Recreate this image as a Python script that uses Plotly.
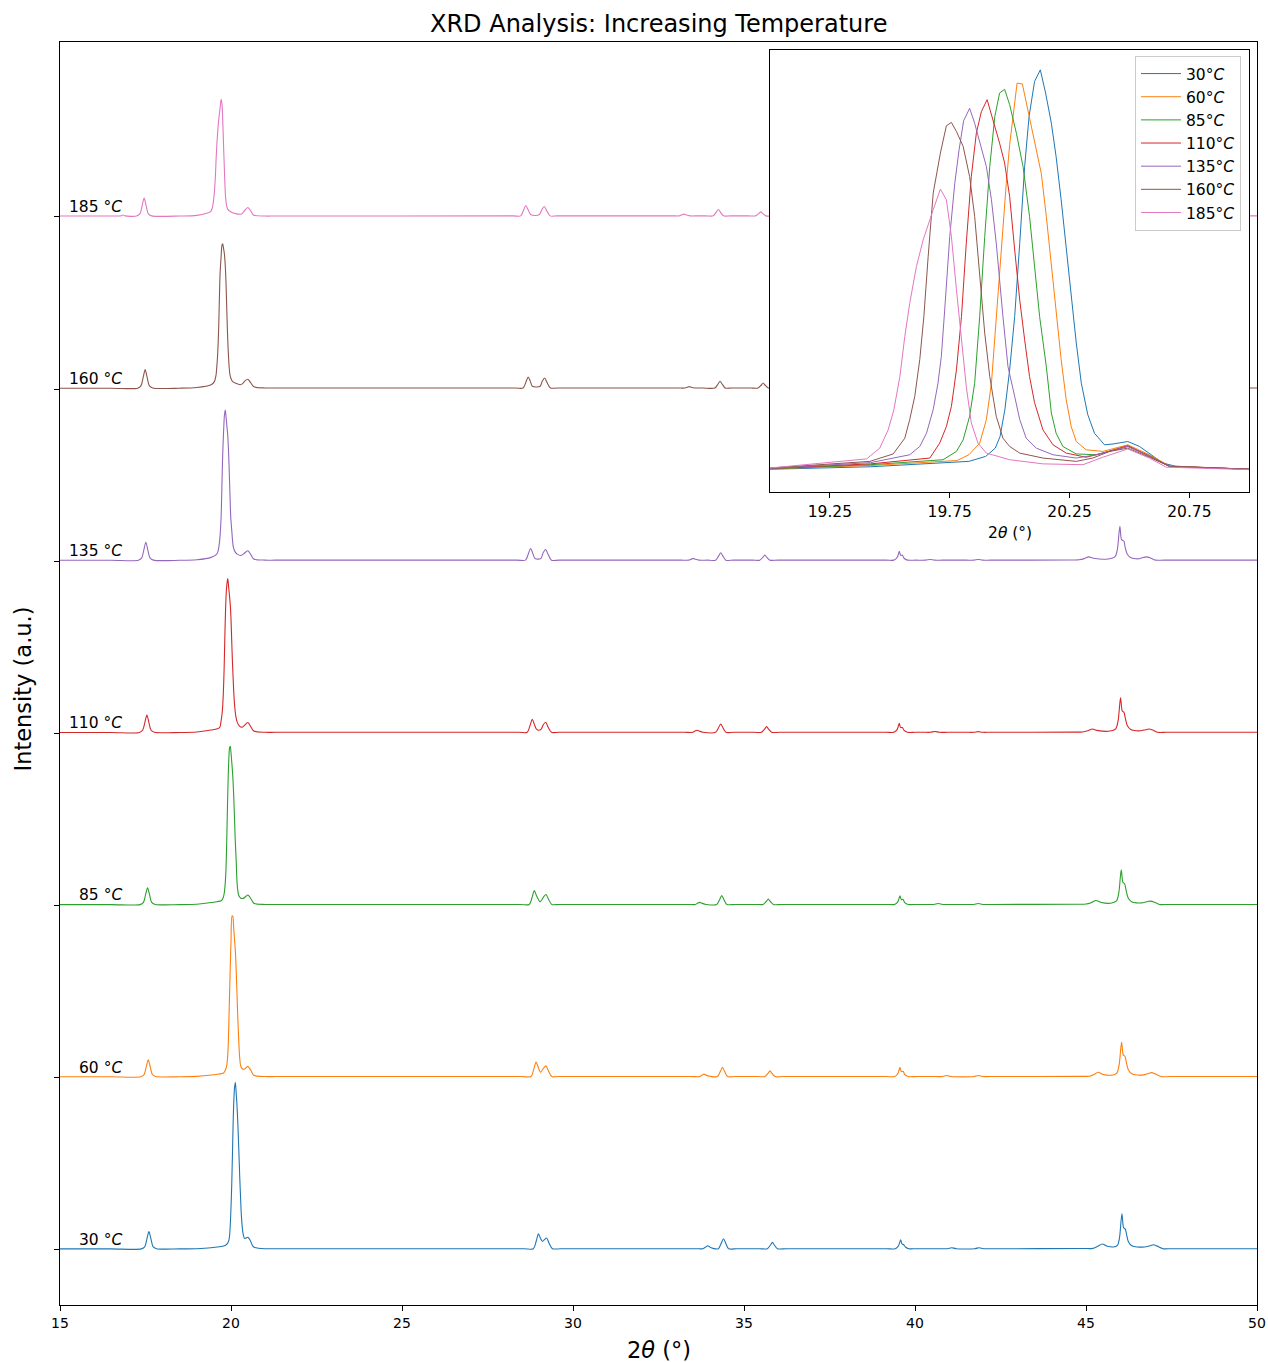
import plotly.graph_objects as go

# ---------------------------------------------------------------
# XRD patterns recorded at increasing temperature.
# Each pattern is a list of (2theta [deg], intensity [norm.]) points.
# ---------------------------------------------------------------
TEMPS = ["30", "60", "85", "110", "135", "160", "185"]
COLORS = ["#1f77b4", "#ff7f0e", "#2ca02c", "#d62728", "#9467bd", "#8c564b", "#e377c2"]
OFFSET_STEP = 1.0
X_TICKS = [15, 20, 25, 30, 35, 40, 45, 50]
INSET_TICKS = [19.25, 19.75, 20.25, 20.75]

PATTERN_30 = [
    (15.00, .005), (16.50, .005), (17.38, .005), (17.48, .018), (17.54, .062), (17.60, .105), (17.66, .062),
    (17.72, .018), (17.82, .006),
    (18.50, .005), (19.00, .006), (19.42, .012), (19.83, .025), (19.90, .037), (19.94, .057), (19.96, .085),
    (19.98, .150), (20.00, .246), (20.021, .375), (20.042, .552), (20.0625, .737), (20.081, .858), (20.104, .943),
    (20.128, .971), (20.15, .915), (20.174, .842), (20.194, .761), (20.215, .657), (20.236, .536), (20.257, .415),
    (20.278, .311), (20.299, .214), (20.326, .138), (20.354, .093), (20.396, .065), (20.431, .067), (20.493, .073),
    (20.542, .061), (20.583, .045), (20.639, .021), (20.694, .013), (21.00, .006), (21.30, .006),
    (28.55, .006), (28.84, .006), (28.93, .054), (28.99, .093), (29.05, .066), (29.11, .048), (29.17, .060),
    (29.23, .068), (29.30, .038), (29.40, .006), (29.65, .006),
    (33.55, .006), (33.80, .006), (33.88, .016), (33.94, .023), (34.00, .016), (34.10, .008), (34.25, .006),
    (34.34, .041), (34.40, .064), (34.46, .041), (34.55, .006), (34.80, .006),
    (35.45, .006), (35.68, .006), (35.77, .026), (35.83, .043), (35.89, .026), (35.98, .006), (36.25, .006),
    (39.15, .006), (39.42, .006), (39.50, .018), (39.54, .034), (39.58, .058), (39.62, .034), (39.67, .029),
    (39.72, .016), (39.82, .006), (40.05, .006),
    (40.75, .006), (40.95, .006), (41.07, .012), (41.20, .006), (41.75, .006), (41.88, .012), (42.00, .006),
    (42.25, .006),
    (44.95, .007), (45.20, .008), (45.34, .020), (45.48, .033), (45.60, .022), (45.80, .016), (45.92, .026),
    (45.98, .070), (46.05, .209), (46.10, .128), (46.15, .120), (46.19, .085), (46.24, .046), (46.34, .023),
    (46.50, .016), (46.70, .016), (46.85, .022), (46.97, .029), (47.08, .021), (47.25, .006), (47.50, .006),
    (50.00, .006),
]

PATTERN_60 = [
    (15.00, .005), (16.50, .005), (17.36, .005), (17.46, .018), (17.52, .061), (17.58, .103), (17.64, .061),
    (17.70, .018), (17.80, .006),
    (18.50, .005), (19.00, .007), (19.42, .015), (19.78, .027), (19.83, .041), (19.875, .069), (19.903, .126),
    (19.924, .214), (19.944, .375), (19.965, .536), (19.986, .697), (20.00, .790), (20.031, .939), (20.053, .937),
    (20.076, .874), (20.104, .802), (20.132, .721), (20.153, .617), (20.174, .496), (20.194, .375), (20.215, .271),
    (20.236, .174), (20.257, .109), (20.278, .073), (20.319, .053), (20.389, .049), (20.493, .065), (20.583, .041),
    (20.667, .014), (21.00, .006), (21.30, .006),
    (28.50, .006), (28.77, .006), (28.86, .054), (28.92, .091), (28.98, .062), (29.05, .031), (29.14, .055),
    (29.21, .068), (29.28, .040), (29.38, .006), (29.60, .006),
    (33.45, .006), (33.70, .006), (33.77, .014), (33.83, .020), (33.90, .013), (34.00, .008), (34.22, .006),
    (34.31, .037), (34.37, .060), (34.43, .037), (34.52, .006), (34.75, .006),
    (35.40, .006), (35.61, .006), (35.70, .024), (35.76, .039), (35.82, .024), (35.91, .006), (36.15, .006),
    (39.15, .006), (39.40, .006), (39.48, .018), (39.52, .034), (39.56, .060), (39.60, .035), (39.65, .037),
    (39.70, .018), (39.80, .006), (40.05, .006),
    (40.60, .006), (40.80, .006), (40.93, .012), (41.06, .006), (41.72, .006), (41.85, .012), (41.98, .006),
    (42.20, .006),
    (44.85, .007), (45.10, .008), (45.22, .016), (45.36, .031), (45.48, .020), (45.75, .014), (45.90, .026),
    (45.97, .075), (46.04, .205), (46.09, .132), (46.14, .124), (46.18, .088), (46.24, .044), (46.34, .022),
    (46.50, .015), (46.68, .016), (46.82, .024), (46.92, .029), (47.02, .022), (47.20, .006), (47.45, .006),
    (50.00, .006),
]

PATTERN_85 = [
    (15.00, .005), (16.50, .005), (17.34, .005), (17.44, .018), (17.50, .061), (17.56, .103), (17.62, .061),
    (17.68, .018), (17.78, .006),
    (18.50, .005), (19.00, .007), (19.42, .017), (19.722, .029), (19.778, .049), (19.806, .077), (19.833, .134),
    (19.854, .214), (19.875, .375), (19.896, .568), (19.917, .737), (19.938, .858), (19.958, .915), (19.979, .924),
    (20.00, .887), (20.028, .818), (20.056, .737), (20.083, .617), (20.104, .496), (20.125, .375), (20.153, .254),
    (20.174, .142), (20.194, .093), (20.222, .061), (20.278, .043), (20.361, .041), (20.493, .061), (20.583, .039),
    (20.667, .013), (21.00, .006), (21.30, .006),
    (28.45, .006), (28.72, .006), (28.81, .051), (28.87, .087), (28.93, .058), (29.04, .021), (29.14, .050),
    (29.21, .064), (29.28, .038), (29.38, .006), (29.60, .006),
    (33.35, .006), (33.58, .006), (33.65, .014), (33.71, .018), (33.78, .012), (33.90, .006), (34.20, .006),
    (34.29, .035), (34.35, .058), (34.41, .035), (34.50, .006), (34.75, .006),
    (35.35, .006), (35.56, .006), (35.65, .023), (35.71, .037), (35.77, .023), (35.86, .006), (36.10, .006),
    (39.15, .006), (39.40, .006), (39.48, .017), (39.52, .032), (39.56, .056), (39.60, .033), (39.65, .035),
    (39.70, .017), (39.80, .006), (40.05, .006),
    (40.35, .006), (40.55, .006), (40.68, .011), (40.81, .006), (41.05, .006), (41.50, .006), (41.72, .006),
    (41.85, .011), (41.98, .006), (42.20, .006),
    (44.75, .007), (45.00, .008), (45.15, .016), (45.29, .029), (45.42, .019), (45.72, .013), (45.89, .026),
    (45.96, .075), (46.03, .207), (46.08, .134), (46.13, .126), (46.17, .090), (46.23, .045), (46.33, .022),
    (46.48, .015), (46.63, .015), (46.78, .022), (46.89, .025), (47.00, .019), (47.15, .006), (47.40, .006),
    (50.00, .006),
]

PATTERN_110 = [
    (15.00, .005), (16.50, .005), (17.32, .005), (17.42, .019), (17.48, .062), (17.54, .106), (17.60, .062),
    (17.66, .019), (17.76, .006),
    (18.50, .005), (19.00, .008), (19.42, .019), (19.667, .033), (19.708, .069), (19.736, .109), (19.757, .158),
    (19.778, .246), (19.799, .375), (19.819, .552), (19.840, .713), (19.861, .818), (19.882, .870), (19.906, .899),
    (19.931, .850), (19.958, .794), (19.979, .746), (20.00, .665), (20.021, .536), (20.042, .415), (20.0625, .319),
    (20.083, .230), (20.104, .167), (20.139, .101), (20.181, .065), (20.236, .045), (20.319, .035), (20.389, .045),
    (20.493, .063), (20.583, .037), (20.667, .013), (21.00, .006), (21.30, .006),
    (28.40, .006), (28.66, .006), (28.75, .049), (28.81, .081), (28.87, .052), (28.93, .025), (29.00, .018),
    (29.07, .025), (29.13, .050), (29.20, .064), (29.27, .037), (29.37, .006), (29.60, .006),
    (33.25, .006), (33.50, .006), (33.57, .014), (33.63, .018), (33.70, .012), (33.80, .006), (34.17, .006),
    (34.26, .034), (34.32, .054), (34.38, .034), (34.47, .006), (34.70, .006),
    (35.30, .006), (35.51, .006), (35.60, .024), (35.66, .039), (35.72, .024), (35.81, .006), (36.05, .006),
    (39.15, .006), (39.38, .006), (39.46, .017), (39.50, .032), (39.54, .058), (39.58, .033), (39.63, .034),
    (39.68, .017), (39.78, .006), (40.00, .006),
    (40.25, .006), (40.45, .006), (40.58, .011), (40.71, .006), (40.95, .006), (41.50, .006), (41.72, .006),
    (41.85, .010), (41.98, .006), (42.20, .006),
    (44.65, .007), (44.90, .008), (45.05, .015), (45.19, .025), (45.32, .017), (45.70, .013), (45.87, .026),
    (45.94, .075), (46.01, .207), (46.06, .130), (46.11, .122), (46.15, .088), (46.21, .044), (46.31, .022),
    (46.46, .015), (46.60, .015), (46.74, .021), (46.84, .025), (46.95, .019), (47.10, .006), (47.35, .006),
    (50.00, .006),
]

PATTERN_135 = [
    (15.00, .005), (16.50, .005), (17.29, .005), (17.39, .019), (17.45, .064), (17.51, .110), (17.57, .064),
    (17.63, .019), (17.73, .006),
    (18.50, .005), (19.00, .008), (19.42, .022), (19.583, .041), (19.625, .061), (19.653, .093), (19.681, .150),
    (19.701, .214), (19.715, .279), (19.729, .391), (19.750, .568), (19.771, .697), (19.789, .778), (19.808, .848),
    (19.833, .878), (19.854, .842), (19.875, .794), (19.903, .737), (19.924, .657), (19.944, .553), (19.972, .375),
    (19.993, .254), (20.021, .182), (20.042, .126), (20.069, .081), (20.111, .057), (20.181, .041), (20.278, .033),
    (20.361, .041), (20.493, .061), (20.583, .037), (20.667, .013), (21.00, .006), (21.30, .006),
    (28.35, .006), (28.61, .006), (28.70, .046), (28.76, .074), (28.82, .048), (28.88, .018), (28.98, .012),
    (29.07, .018), (29.13, .050), (29.20, .068), (29.27, .040), (29.37, .006), (29.60, .006),
    (33.15, .006), (33.38, .006), (33.46, .012), (33.52, .016), (33.58, .011), (33.68, .006), (33.92, .006),
    (34.17, .006), (34.26, .031), (34.32, .049), (34.38, .031), (34.47, .006), (34.70, .006),
    (35.25, .006), (35.46, .006), (35.55, .022), (35.61, .035), (35.67, .022), (35.76, .006), (36.00, .006),
    (39.15, .006), (39.38, .006), (39.46, .017), (39.50, .032), (39.54, .058), (39.58, .034), (39.63, .035),
    (39.68, .017), (39.78, .006), (40.02, .006),
    (40.31, .006), (40.44, .010), (40.57, .006), (40.80, .006), (41.50, .006), (41.72, .006), (41.85, .010),
    (41.98, .006), (42.20, .006),
    (44.55, .007), (44.80, .008), (44.95, .015), (45.08, .025), (45.22, .017), (45.65, .013), (45.85, .026),
    (45.92, .072), (45.99, .203), (46.04, .125), (46.11, .116), (46.14, .085), (46.20, .043), (46.30, .021),
    (46.45, .014), (46.55, .014), (46.67, .021), (46.77, .025), (46.88, .019), (47.03, .006), (47.30, .006),
    (50.00, .006),
]

PATTERN_160 = [
    (15.00, .005), (16.50, .005), (17.27, .005), (17.37, .020), (17.43, .066), (17.49, .113), (17.55, .066),
    (17.61, .020), (17.71, .006),
    (18.50, .005), (19.00, .009), (19.417, .025), (19.514, .043), (19.5625, .081), (19.583, .126), (19.604, .182),
    (19.625, .271), (19.642, .375), (19.660, .520), (19.681, .673), (19.711, .770), (19.736, .836), (19.757, .844),
    (19.778, .822), (19.806, .786), (19.833, .713), (19.854, .617), (19.875, .472), (19.896, .335), (19.917, .230),
    (19.944, .134), (19.972, .081), (20.00, .061), (20.042, .045), (20.139, .033), (20.278, .025), (20.347, .033),
    (20.417, .049), (20.493, .057), (20.583, .035), (20.667, .013), (21.00, .006), (21.30, .006),
    (28.30, .006), (28.54, .006), (28.63, .044), (28.69, .070), (28.75, .046), (28.81, .016), (28.93, .012),
    (29.04, .016), (29.10, .045), (29.17, .064), (29.24, .038), (29.34, .006), (29.55, .006),
    (33.05, .006), (33.27, .006), (33.34, .010), (33.40, .014), (33.46, .010), (33.56, .006), (33.80, .006),
    (34.15, .006), (34.24, .029), (34.30, .045), (34.36, .029), (34.45, .006), (34.65, .006),
    (35.20, .006), (35.41, .006), (35.50, .022), (35.56, .035), (35.62, .022), (35.71, .006), (35.95, .006),
    (39.10, .006), (39.36, .006), (39.44, .017), (39.48, .032), (39.52, .057), (39.56, .033), (39.61, .034),
    (39.66, .017), (39.76, .006), (39.95, .006),
    (40.17, .006), (40.30, .010), (40.43, .006), (40.65, .006), (41.48, .006), (41.70, .006), (41.83, .010),
    (41.96, .006), (42.20, .006),
    (44.45, .007), (44.70, .008), (44.84, .015), (44.97, .025), (45.11, .017), (45.60, .013), (45.83, .026),
    (45.90, .070), (45.97, .200), (46.02, .122), (46.09, .115), (46.12, .084), (46.18, .042), (46.28, .021),
    (46.42, .014), (46.50, .014), (46.60, .021), (46.70, .025), (46.81, .019), (46.96, .006), (47.20, .006),
    (50.00, .006),
]

PATTERN_185 = [
    (15.00, .005), (16.50, .005), (16.78, .006), (16.84, .011), (16.90, .006), (17.24, .005), (17.34, .019),
    (17.40, .064), (17.46, .109), (17.52, .064), (17.58, .019), (17.68, .006),
    (18.50, .005), (19.00, .009), (19.403, .031), (19.458, .057),
    (19.493, .101), (19.517, .150), (19.542, .230), (19.5625, .327), (19.583, .407), (19.611, .496), (19.639, .560),
    (19.681, .633), (19.711, .683), (19.736, .657), (19.757, .568), (19.778, .440), (19.799, .319), (19.819, .206),
    (19.840, .118), (19.868, .069), (19.903, .045), (20.00, .029), (20.139, .019), (20.306, .017), (20.389, .035),
    (20.493, .055), (20.583, .033), (20.653, .011), (21.00, .005), (21.30, .005),
    (28.25, .006), (28.47, .006), (28.56, .042), (28.62, .066), (28.68, .044), (28.76, .014), (28.90, .008),
    (29.02, .014), (29.09, .043), (29.16, .060), (29.23, .036), (29.33, .006), (29.55, .006),
    (32.90, .006), (33.10, .006), (33.18, .012), (33.25, .016), (33.32, .011), (33.42, .006), (33.65, .006),
    (33.88, .006), (34.10, .006), (34.19, .028), (34.25, .043), (34.31, .028), (34.40, .006), (34.60, .006),
    (35.12, .006), (35.34, .006), (35.43, .019), (35.49, .029), (35.55, .019), (35.64, .006), (35.90, .006),
    (39.10, .006), (39.34, .006), (39.42, .017), (39.46, .031), (39.50, .055), (39.54, .032), (39.59, .033),
    (39.64, .017), (39.74, .006),
    (40.07, .006), (40.20, .010), (40.33, .006), (40.55, .006), (41.47, .006), (41.69, .006), (41.82, .010),
    (41.95, .006), (42.20, .006),
    (44.35, .007), (44.60, .008), (44.73, .015), (44.86, .025), (45.00, .017), (45.55, .013), (45.81, .025),
    (45.88, .066), (45.95, .190), (46.00, .118), (46.07, .110), (46.10, .080), (46.16, .041), (46.26, .020),
    (46.40, .014), (46.45, .014), (46.54, .020), (46.63, .025), (46.74, .018), (46.89, .006), (47.15, .006),
    (50.00, .006),
]

PATTERNS = [PATTERN_30, PATTERN_60, PATTERN_85, PATTERN_110, PATTERN_135, PATTERN_160, PATTERN_185]

FONT = "DejaVu Sans"
W, H = 1268, 1362


def px_x(p):
    return p / W


def px_y(p):
    return 1 - p / H


fig = go.Figure()

# stacked patterns (main axes)
for i, (temp, color, pattern) in enumerate(zip(TEMPS, COLORS, PATTERNS)):
    tth = [p[0] for p in pattern]
    inten = [p[1] + i * OFFSET_STEP for p in pattern]
    fig.add_trace(go.Scatter(
        x=tth, y=inten, mode="lines",
        line=dict(color=color, width=1.1, shape="spline", smoothing=0.8),
        showlegend=False, hoverinfo="skip", xaxis="x", yaxis="y",
    ))

# zoom on the main reflection (inset axes)
for temp, color, pattern in zip(TEMPS, COLORS, PATTERNS):
    fig.add_trace(go.Scatter(
        x=[p[0] for p in pattern], y=[p[1] for p in pattern], mode="lines",
        line=dict(color=color, width=1.0), name=f"{temp}°<i>C</i>",
        xaxis="x2", yaxis="y2",
    ))

annotations = [
    dict(text="XRD Analysis: Increasing Temperature", xref="paper", yref="paper",
         x=px_x(658.5), y=px_y(24), xanchor="center", yanchor="middle", showarrow=False,
         font=dict(family=FONT, size=24, color="black")),
    dict(text="Intensity (a.u.)", xref="paper", yref="paper", x=px_x(22), y=px_y(689.5),
         xanchor="center", yanchor="middle", textangle=-90, showarrow=False,
         font=dict(family=FONT, size=22.5, color="black")),
    dict(text="2<i>θ</i> (°)", xref="paper", yref="paper", x=px_x(658.5), y=px_y(1350),
         xanchor="center", yanchor="middle", showarrow=False,
         font=dict(family=FONT, size=22.5, color="black")),
    dict(text="2<i>θ</i> (°)", xref="paper", yref="paper", x=px_x(1009.5), y=px_y(533),
         xanchor="center", yanchor="middle", showarrow=False,
         font=dict(family=FONT, size=15.5, color="black")),
]
for i, temp in enumerate(TEMPS):
    annotations.append(dict(
        text=f"{temp} °<i>C</i>", xref="x", yref="y", x=16.83, y=i * OFFSET_STEP,
        xanchor="right", yanchor="bottom", showarrow=False, borderpad=0,
        font=dict(family=FONT, size=15.5, color="black"),
    ))

axis_common = dict(showline=True, linecolor="black", linewidth=1.1, mirror=True,
                   showgrid=False, zeroline=False, ticks="outside", ticklen=5,
                   tickwidth=1.1, tickcolor="black", automargin=False)

fig.update_layout(
    width=W, height=H,
    margin=dict(l=0, r=0, t=0, b=0, autoexpand=False),
    paper_bgcolor="white", plot_bgcolor="white",
    font=dict(family=FONT, size=14, color="black"),
    xaxis=dict(domain=[px_x(60), px_x(1257)], range=[15, 50], tickvals=X_TICKS,
               ticktext=[str(v) for v in X_TICKS], tickfont=dict(size=14),
               anchor="y", **axis_common),
    yaxis=dict(domain=[px_y(1305), px_y(42)], range=[-0.321, 7.016],
               tickvals=[i * OFFSET_STEP for i in range(len(TEMPS))],
               showticklabels=False, anchor="x", **axis_common),
    xaxis2=dict(domain=[px_x(770), px_x(1249.3)], range=[19.0, 21.0], tickvals=INSET_TICKS,
                ticktext=[f"{v:.2f}" for v in INSET_TICKS], tickfont=dict(size=15.5),
                anchor="y2", **axis_common),
    yaxis2=dict(domain=[px_y(492), px_y(50)], range=[-0.049, 1.019], anchor="x2",
                showline=True, linecolor="black", linewidth=1.1, mirror=True,
                showgrid=False, zeroline=False, showticklabels=False, ticks="",
                automargin=False),
    legend=dict(x=px_x(1241), y=px_y(56), xanchor="right", yanchor="top", itemwidth=40,
                bgcolor="rgba(255,255,255,0.8)", bordercolor="#cccccc", borderwidth=1,
                font=dict(family=FONT, size=15.5, color="black")),
    annotations=annotations,
    showlegend=True,
)

fig.write_html("out.html")
